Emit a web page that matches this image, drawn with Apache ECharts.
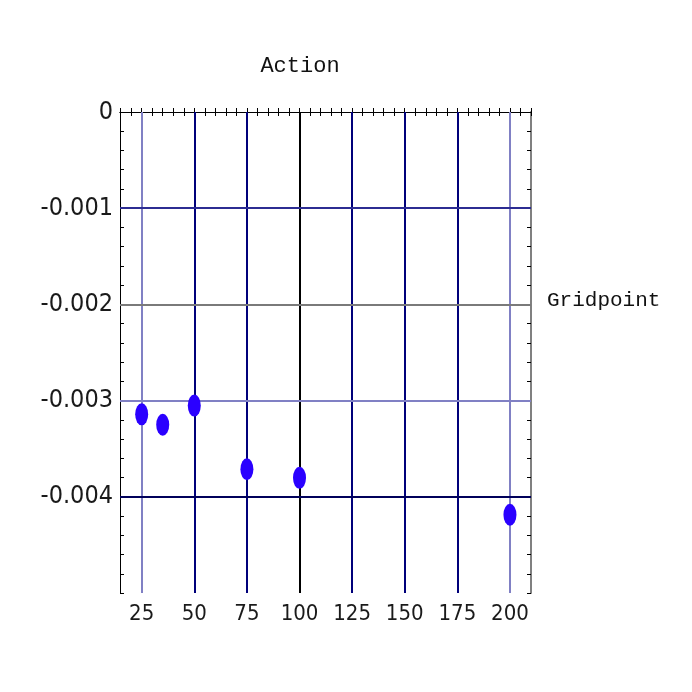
<!DOCTYPE html>
<html>
<head>
<meta charset="utf-8">
<script src="https://cdn.jsdelivr.net/npm/echarts@6/dist/echarts.min.js"></script>
<style>html,body{margin:0;padding:0;background:#fff}#c{width:692px;height:692px}</style>
</head>
<body>
<div id="c"></div>
<script>
// ---- data ----
const gridpoints = [25, 35, 50, 75, 100, 200];
const actionValues = [-0.003143, -0.003252, -0.003052, -0.003714, -0.003803, -0.004187];
const xTickLabels = [25, 50, 75, 100, 125, 150, 175, 200];
const yTickLabels = [0, -0.001, -0.002, -0.003, -0.004];
const yTickText = ['0', '-0.001', '-0.002', '-0.003', '-0.004'];
const xGridLines = [25, 50, 75, 100, 125, 150, 175, 200];
const yGridLines = [-0.001, -0.002, -0.003, -0.004];
const xRange = [14.7, 210];
const yRange = [-0.005, 0];
// ---- styles ----
const xGridColors = ['#8080c4', '#00007a', '#00007a', '#000000', '#00007a', '#00007a', '#00007a', '#8080c4'];
const yGridColors = ['#2c2c92', '#7a7a7a', '#8080c4', '#00005a'];

const xMinor = []; for (let v = 15; v <= 210; v += 5) xMinor.push(v);
const yMinor = []; for (let i = 0; i <= 25; i++) yMinor.push(-i * 0.0002);

const fam = '"DejaVu Sans Condensed","Liberation Sans Narrow",sans-serif';

const chart = echarts.init(document.getElementById('c'));
const xBase = {type: 'value', min: xRange[0], max: xRange[1], splitLine: {show: false}};
const yBase = {type: 'value', min: yRange[0], max: yRange[1], splitLine: {show: false}};
const tick = inside => ({inside: inside, length: 4, lineStyle: {color: '#000'}});

chart.setOption({
  animation: false,
  backgroundColor: '#fff',
  title: [
    {text: 'Action', left: 295, top: 50, textAlign: 'center',
     textStyle: {fontFamily: '"Liberation Mono",monospace', fontSize: 22, fontWeight: 'normal', color: '#111'}},
    {text: 'Gridpoint', left: 542, top: 285,
     textStyle: {fontFamily: '"Liberation Mono",monospace', fontSize: 21, fontWeight: 'normal', color: '#111'}}
  ],
  grid: {left: 120, right: 161, top: 112, bottom: 99, containLabel: false},
  xAxis: [
    Object.assign({}, xBase, {position: 'bottom',
      axisTick: Object.assign(tick(true), {customValues: xMinor}),
      axisLine: {lineStyle: {color: '#000', width: 1}},
      axisLabel: {customValues: xTickLabels, margin: 10, fontFamily: fam, fontSize: 22, color: '#1a1a1a'}}),
    Object.assign({}, xBase, {position: 'top',
      axisTick: Object.assign(tick(true), {customValues: xMinor}),
      axisLine: {lineStyle: {color: '#000', width: 1}},
      axisLabel: {show: false}})
  ],
  yAxis: [
    Object.assign({}, yBase, {position: 'left',
      axisTick: Object.assign(tick(true), {customValues: yMinor}),
      axisLine: {lineStyle: {color: '#000', width: 1}},
      axisLabel: {customValues: yTickLabels, margin: 7, fontFamily: fam, fontSize: 25, color: '#1a1a1a',
        formatter: v => { const i = yTickLabels.findIndex(t => Math.abs(t - v) < 1e-9); return i >= 0 ? yTickText[i] : ''; }}}),
    Object.assign({}, yBase, {position: 'right',
      axisTick: Object.assign(tick(true), {customValues: yMinor}),
      axisLine: {lineStyle: {color: '#808080', width: 2}},
      axisLabel: {show: false}})
  ],
  series: [
    {type: 'scatter', data: [], xAxisIndex: 0, yAxisIndex: 0, z: 1,
     markLine: {silent: true, symbol: 'none', label: {show: false}, animation: false,
       data: xGridLines.map((v, i) => ({xAxis: v, lineStyle: {color: xGridColors[i], width: 2, type: 'solid'}}))
         .concat(yGridLines.map((v, i) => [
           {coord: [xRange[0], v], lineStyle: {color: yGridColors[i], width: 2, type: 'solid'}},
           {coord: [xRange[1], v]}]))}},
    {type: 'scatter', xAxisIndex: 0, yAxisIndex: 0, z: 5,
     symbol: 'circle', symbolSize: [13, 22],
     itemStyle: {color: '#2a00ff', opacity: 1},
     data: gridpoints.map((g, i) => [g, actionValues[i]])}
  ]
});
</script>
</body>
</html>
